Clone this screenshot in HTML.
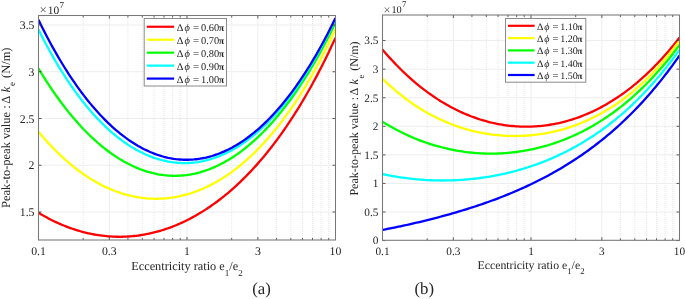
<!DOCTYPE html>
<html><head><meta charset="utf-8"><style>
html,body{margin:0;padding:0;background:#fff;width:685px;height:299px;overflow:hidden}
svg{display:block;will-change:transform;filter:blur(0.3px)}
text{font-family:"Liberation Serif",serif;text-rendering:geometricPrecision}
</style></head><body>
<svg width="685" height="299" viewBox="0 0 685 299" font-family='"Liberation Serif", serif' fill="#262626"><clipPath id="clipa"><rect x="38.5" y="15.5" width="297.0" height="224.5"/></clipPath>
<line x1="83.20" y1="15.5" x2="83.20" y2="240.0" stroke="#e0e0e0" stroke-width="0.8" stroke-dasharray="1,1" stroke-dashoffset="0.50"/>
<line x1="127.91" y1="15.5" x2="127.91" y2="240.0" stroke="#e0e0e0" stroke-width="0.8" stroke-dasharray="1,1" stroke-dashoffset="0.50"/>
<line x1="142.30" y1="15.5" x2="142.30" y2="240.0" stroke="#e0e0e0" stroke-width="0.8" stroke-dasharray="1,1" stroke-dashoffset="0.50"/>
<line x1="154.06" y1="15.5" x2="154.06" y2="240.0" stroke="#e0e0e0" stroke-width="0.8" stroke-dasharray="1,1" stroke-dashoffset="0.50"/>
<line x1="164.00" y1="15.5" x2="164.00" y2="240.0" stroke="#e0e0e0" stroke-width="0.8" stroke-dasharray="1,1" stroke-dashoffset="0.50"/>
<line x1="172.61" y1="15.5" x2="172.61" y2="240.0" stroke="#e0e0e0" stroke-width="0.8" stroke-dasharray="1,1" stroke-dashoffset="0.50"/>
<line x1="180.21" y1="15.5" x2="180.21" y2="240.0" stroke="#e0e0e0" stroke-width="0.8" stroke-dasharray="1,1" stroke-dashoffset="0.50"/>
<line x1="231.70" y1="15.5" x2="231.70" y2="240.0" stroke="#e0e0e0" stroke-width="0.8" stroke-dasharray="1,1" stroke-dashoffset="0.50"/>
<line x1="276.41" y1="15.5" x2="276.41" y2="240.0" stroke="#e0e0e0" stroke-width="0.8" stroke-dasharray="1,1" stroke-dashoffset="0.50"/>
<line x1="290.80" y1="15.5" x2="290.80" y2="240.0" stroke="#e0e0e0" stroke-width="0.8" stroke-dasharray="1,1" stroke-dashoffset="0.50"/>
<line x1="302.56" y1="15.5" x2="302.56" y2="240.0" stroke="#e0e0e0" stroke-width="0.8" stroke-dasharray="1,1" stroke-dashoffset="0.50"/>
<line x1="312.50" y1="15.5" x2="312.50" y2="240.0" stroke="#e0e0e0" stroke-width="0.8" stroke-dasharray="1,1" stroke-dashoffset="0.50"/>
<line x1="321.11" y1="15.5" x2="321.11" y2="240.0" stroke="#e0e0e0" stroke-width="0.8" stroke-dasharray="1,1" stroke-dashoffset="0.50"/>
<line x1="328.71" y1="15.5" x2="328.71" y2="240.0" stroke="#e0e0e0" stroke-width="0.8" stroke-dasharray="1,1" stroke-dashoffset="0.50"/>
<line x1="109.35" y1="15.5" x2="109.35" y2="240.0" stroke="#ededed" stroke-width="1"/>
<line x1="187.00" y1="15.5" x2="187.00" y2="240.0" stroke="#ededed" stroke-width="1"/>
<line x1="257.85" y1="15.5" x2="257.85" y2="240.0" stroke="#ededed" stroke-width="1"/>
<line x1="38.5" y1="212.00" x2="335.5" y2="212.00" stroke="#ededed" stroke-width="1"/>
<line x1="38.5" y1="165.25" x2="335.5" y2="165.25" stroke="#ededed" stroke-width="1"/>
<line x1="38.5" y1="118.50" x2="335.5" y2="118.50" stroke="#ededed" stroke-width="1"/>
<line x1="38.5" y1="71.75" x2="335.5" y2="71.75" stroke="#ededed" stroke-width="1"/>
<line x1="38.5" y1="25.00" x2="335.5" y2="25.00" stroke="#ededed" stroke-width="1"/>
<path d="M38.50,212.77 L40.49,213.96 L42.49,215.12 L44.48,216.25 L46.47,217.34 L48.47,218.41 L50.46,219.44 L52.45,220.44 L54.45,221.41 L56.44,222.35 L58.43,223.26 L60.43,224.14 L62.42,224.98 L64.41,225.80 L66.41,226.59 L68.40,227.34 L70.39,228.07 L72.39,228.77 L74.38,229.44 L76.37,230.07 L78.37,230.68 L80.36,231.26 L82.35,231.81 L84.35,232.33 L86.34,232.82 L88.33,233.29 L90.33,233.72 L92.32,234.13 L94.31,234.50 L96.31,234.85 L98.30,235.17 L100.29,235.46 L102.29,235.72 L104.28,235.95 L106.27,236.15 L108.27,236.33 L110.26,236.47 L112.25,236.59 L114.24,236.68 L116.24,236.74 L118.23,236.77 L120.22,236.78 L122.22,236.75 L124.21,236.70 L126.20,236.62 L128.20,236.51 L130.19,236.37 L132.18,236.20 L134.18,236.01 L136.17,235.78 L138.16,235.53 L140.16,235.25 L142.15,234.94 L144.14,234.60 L146.14,234.23 L148.13,233.83 L150.12,233.41 L152.12,232.95 L154.11,232.47 L156.10,231.96 L158.10,231.42 L160.09,230.84 L162.08,230.24 L164.08,229.61 L166.07,228.95 L168.06,228.27 L170.06,227.55 L172.05,226.80 L174.04,226.02 L176.04,225.21 L178.03,224.37 L180.02,223.50 L182.02,222.60 L184.01,221.67 L186.00,220.71 L188.00,219.72 L189.99,218.69 L191.98,217.64 L193.98,216.55 L195.97,215.43 L197.96,214.28 L199.96,213.10 L201.95,211.88 L203.94,210.64 L205.94,209.36 L207.93,208.04 L209.92,206.70 L211.92,205.32 L213.91,203.90 L215.90,202.45 L217.90,200.97 L219.89,199.46 L221.88,197.90 L223.88,196.32 L225.87,194.69 L227.86,193.04 L229.86,191.34 L231.85,189.61 L233.84,187.84 L235.84,186.04 L237.83,184.20 L239.82,182.31 L241.82,180.40 L243.81,178.44 L245.80,176.44 L247.80,174.41 L249.79,172.33 L251.78,170.21 L253.78,168.06 L255.77,165.86 L257.76,163.62 L259.76,161.34 L261.75,159.01 L263.74,156.64 L265.73,154.23 L267.73,151.78 L269.72,149.28 L271.71,146.73 L273.71,144.14 L275.70,141.50 L277.69,138.82 L279.69,136.09 L281.68,133.31 L283.67,130.48 L285.67,127.60 L287.66,124.68 L289.65,121.70 L291.65,118.67 L293.64,115.59 L295.63,112.46 L297.63,109.28 L299.62,106.04 L301.61,102.74 L303.61,99.39 L305.60,95.99 L307.59,92.53 L309.59,89.01 L311.58,85.44 L313.57,81.80 L315.57,78.11 L317.56,74.35 L319.55,70.53 L321.55,66.66 L323.54,62.72 L325.53,58.71 L327.53,54.64 L329.52,50.51 L331.51,46.30 L333.51,42.03 L335.50,37.70" fill="none" stroke="#ff0000" stroke-width="2.3" stroke-linejoin="round" clip-path="url(#clipa)"/>
<path d="M38.50,131.70 L40.49,134.09 L42.49,136.43 L44.48,138.72 L46.47,140.96 L48.47,143.15 L50.46,145.30 L52.45,147.39 L54.45,149.44 L56.44,151.44 L58.43,153.40 L60.43,155.30 L62.42,157.17 L64.41,158.98 L66.41,160.76 L68.40,162.49 L70.39,164.17 L72.39,165.81 L74.38,167.41 L76.37,168.96 L78.37,170.48 L80.36,171.95 L82.35,173.37 L84.35,174.76 L86.34,176.10 L88.33,177.41 L90.33,178.67 L92.32,179.89 L94.31,181.08 L96.31,182.22 L98.30,183.32 L100.29,184.38 L102.29,185.41 L104.28,186.39 L106.27,187.34 L108.27,188.24 L110.26,189.11 L112.25,189.94 L114.24,190.73 L116.24,191.49 L118.23,192.21 L120.22,192.88 L122.22,193.52 L124.21,194.13 L126.20,194.70 L128.20,195.22 L130.19,195.72 L132.18,196.17 L134.18,196.59 L136.17,196.97 L138.16,197.32 L140.16,197.63 L142.15,197.90 L144.14,198.13 L146.14,198.33 L148.13,198.50 L150.12,198.62 L152.12,198.71 L154.11,198.77 L156.10,198.78 L158.10,198.76 L160.09,198.71 L162.08,198.62 L164.08,198.49 L166.07,198.33 L168.06,198.13 L170.06,197.89 L172.05,197.61 L174.04,197.30 L176.04,196.96 L178.03,196.58 L180.02,196.16 L182.02,195.70 L184.01,195.20 L186.00,194.67 L188.00,194.11 L189.99,193.50 L191.98,192.86 L193.98,192.18 L195.97,191.46 L197.96,190.70 L199.96,189.91 L201.95,189.08 L203.94,188.21 L205.94,187.30 L207.93,186.35 L209.92,185.37 L211.92,184.34 L213.91,183.28 L215.90,182.17 L217.90,181.03 L219.89,179.85 L221.88,178.62 L223.88,177.36 L225.87,176.05 L227.86,174.71 L229.86,173.32 L231.85,171.89 L233.84,170.42 L235.84,168.90 L237.83,167.35 L239.82,165.75 L241.82,164.11 L243.81,162.42 L245.80,160.69 L247.80,158.92 L249.79,157.10 L251.78,155.23 L253.78,153.32 L255.77,151.36 L257.76,149.36 L259.76,147.31 L261.75,145.22 L263.74,143.07 L265.73,140.88 L267.73,138.64 L269.72,136.34 L271.71,134.00 L273.71,131.61 L275.70,129.17 L277.69,126.68 L279.69,124.13 L281.68,121.53 L283.67,118.88 L285.67,116.18 L287.66,113.42 L289.65,110.60 L291.65,107.73 L293.64,104.81 L295.63,101.83 L297.63,98.79 L299.62,95.69 L301.61,92.53 L303.61,89.31 L305.60,86.04 L307.59,82.70 L309.59,79.30 L311.58,75.84 L313.57,72.31 L315.57,68.72 L317.56,65.06 L319.55,61.34 L321.55,57.55 L323.54,53.70 L325.53,49.78 L327.53,45.78 L329.52,41.72 L331.51,37.59 L333.51,33.38 L335.50,29.10" fill="none" stroke="#ffff00" stroke-width="2.3" stroke-linejoin="round" clip-path="url(#clipa)"/>
<path d="M38.50,68.45 L40.49,71.75 L42.49,74.99 L44.48,78.17 L46.47,81.29 L48.47,84.35 L50.46,87.35 L52.45,90.30 L54.45,93.18 L56.44,96.02 L58.43,98.79 L60.43,101.51 L62.42,104.18 L64.41,106.79 L66.41,109.34 L68.40,111.85 L70.39,114.30 L72.39,116.70 L74.38,119.04 L76.37,121.33 L78.37,123.58 L80.36,125.77 L82.35,127.91 L84.35,130.00 L86.34,132.04 L88.33,134.03 L90.33,135.97 L92.32,137.86 L94.31,139.70 L96.31,141.50 L98.30,143.25 L100.29,144.95 L102.29,146.60 L104.28,148.20 L106.27,149.76 L108.27,151.27 L110.26,152.73 L112.25,154.15 L114.24,155.52 L116.24,156.84 L118.23,158.12 L120.22,159.36 L122.22,160.54 L124.21,161.69 L126.20,162.78 L128.20,163.83 L130.19,164.84 L132.18,165.80 L134.18,166.72 L136.17,167.59 L138.16,168.42 L140.16,169.20 L142.15,169.94 L144.14,170.64 L146.14,171.29 L148.13,171.90 L150.12,172.46 L152.12,172.98 L154.11,173.45 L156.10,173.88 L158.10,174.27 L160.09,174.61 L162.08,174.91 L164.08,175.17 L166.07,175.38 L168.06,175.55 L170.06,175.67 L172.05,175.75 L174.04,175.79 L176.04,175.79 L178.03,175.73 L180.02,175.64 L182.02,175.50 L184.01,175.32 L186.00,175.10 L188.00,174.83 L189.99,174.52 L191.98,174.16 L193.98,173.76 L195.97,173.32 L197.96,172.83 L199.96,172.30 L201.95,171.72 L203.94,171.10 L205.94,170.44 L207.93,169.73 L209.92,168.98 L211.92,168.18 L213.91,167.34 L215.90,166.46 L217.90,165.53 L219.89,164.55 L221.88,163.53 L223.88,162.46 L225.87,161.35 L227.86,160.20 L229.86,159.00 L231.85,157.75 L233.84,156.46 L235.84,155.12 L237.83,153.74 L239.82,152.31 L241.82,150.83 L243.81,149.30 L245.80,147.73 L247.80,146.12 L249.79,144.45 L251.78,142.74 L253.78,140.98 L255.77,139.17 L257.76,137.31 L259.76,135.40 L261.75,133.45 L263.74,131.44 L265.73,129.39 L267.73,127.28 L269.72,125.13 L271.71,122.92 L273.71,120.66 L275.70,118.36 L277.69,116.00 L279.69,113.58 L281.68,111.12 L283.67,108.60 L285.67,106.03 L287.66,103.40 L289.65,100.72 L291.65,97.98 L293.64,95.19 L295.63,92.34 L297.63,89.44 L299.62,86.47 L301.61,83.46 L303.61,80.38 L305.60,77.24 L307.59,74.04 L309.59,70.79 L311.58,67.47 L313.57,64.09 L315.57,60.65 L317.56,57.15 L319.55,53.58 L321.55,49.95 L323.54,46.26 L325.53,42.50 L327.53,38.67 L329.52,34.78 L331.51,30.82 L333.51,26.79 L335.50,22.69" fill="none" stroke="#00ff00" stroke-width="2.3" stroke-linejoin="round" clip-path="url(#clipa)"/>
<path d="M38.50,29.57 L40.49,33.55 L42.49,37.45 L44.48,41.27 L46.47,45.02 L48.47,48.70 L50.46,52.31 L52.45,55.85 L54.45,59.32 L56.44,62.72 L58.43,66.05 L60.43,69.32 L62.42,72.51 L64.41,75.65 L66.41,78.71 L68.40,81.72 L70.39,84.66 L72.39,87.53 L74.38,90.35 L76.37,93.10 L78.37,95.79 L80.36,98.43 L82.35,101.00 L84.35,103.51 L86.34,105.96 L88.33,108.36 L90.33,110.70 L92.32,112.98 L94.31,115.21 L96.31,117.38 L98.30,119.49 L100.29,121.55 L102.29,123.55 L104.28,125.50 L106.27,127.40 L108.27,129.25 L110.26,131.04 L112.25,132.78 L114.24,134.46 L116.24,136.10 L118.23,137.68 L120.22,139.22 L122.22,140.70 L124.21,142.14 L126.20,143.52 L128.20,144.85 L130.19,146.14 L132.18,147.37 L134.18,148.56 L136.17,149.70 L138.16,150.79 L140.16,151.84 L142.15,152.83 L144.14,153.78 L146.14,154.68 L148.13,155.54 L150.12,156.34 L152.12,157.11 L154.11,157.82 L156.10,158.49 L158.10,159.11 L160.09,159.69 L162.08,160.22 L164.08,160.70 L166.07,161.14 L168.06,161.54 L170.06,161.88 L172.05,162.19 L174.04,162.45 L176.04,162.66 L178.03,162.83 L180.02,162.95 L182.02,163.03 L184.01,163.06 L186.00,163.04 L188.00,162.99 L189.99,162.88 L191.98,162.74 L193.98,162.54 L195.97,162.30 L197.96,162.02 L199.96,161.69 L201.95,161.32 L203.94,160.90 L205.94,160.43 L207.93,159.92 L209.92,159.36 L211.92,158.76 L213.91,158.11 L215.90,157.42 L217.90,156.68 L219.89,155.89 L221.88,155.05 L223.88,154.17 L225.87,153.24 L227.86,152.27 L229.86,151.24 L231.85,150.17 L233.84,149.06 L235.84,147.89 L237.83,146.67 L239.82,145.41 L241.82,144.10 L243.81,142.73 L245.80,141.32 L247.80,139.86 L249.79,138.35 L251.78,136.78 L253.78,135.17 L255.77,133.50 L257.76,131.79 L259.76,130.02 L261.75,128.20 L263.74,126.32 L265.73,124.39 L267.73,122.41 L269.72,120.38 L271.71,118.29 L273.71,116.14 L275.70,113.94 L277.69,111.68 L279.69,109.37 L281.68,107.00 L283.67,104.57 L285.67,102.08 L287.66,99.53 L289.65,96.93 L291.65,94.26 L293.64,91.53 L295.63,88.75 L297.63,85.90 L299.62,82.98 L301.61,80.01 L303.61,76.97 L305.60,73.86 L307.59,70.69 L309.59,67.46 L311.58,64.15 L313.57,60.78 L315.57,57.34 L317.56,53.83 L319.55,50.26 L321.55,46.61 L323.54,42.89 L325.53,39.09 L327.53,35.22 L329.52,31.28 L331.51,27.27 L333.51,23.17 L335.50,19.00" fill="none" stroke="#00ffff" stroke-width="2.3" stroke-linejoin="round" clip-path="url(#clipa)"/>
<path d="M38.50,19.87 L40.49,23.95 L42.49,27.94 L44.48,31.87 L46.47,35.72 L48.47,39.50 L50.46,43.21 L52.45,46.85 L54.45,50.42 L56.44,53.92 L58.43,57.35 L60.43,60.72 L62.42,64.02 L64.41,67.25 L66.41,70.42 L68.40,73.53 L70.39,76.57 L72.39,79.55 L74.38,82.47 L76.37,85.32 L78.37,88.12 L80.36,90.85 L82.35,93.52 L84.35,96.14 L86.34,98.69 L88.33,101.19 L90.33,103.63 L92.32,106.01 L94.31,108.34 L96.31,110.61 L98.30,112.82 L100.29,114.98 L102.29,117.08 L104.28,119.13 L106.27,121.12 L108.27,123.06 L110.26,124.95 L112.25,126.78 L114.24,128.56 L116.24,130.29 L118.23,131.97 L120.22,133.59 L122.22,135.17 L124.21,136.69 L126.20,138.16 L128.20,139.59 L130.19,140.96 L132.18,142.28 L134.18,143.55 L136.17,144.77 L138.16,145.95 L140.16,147.07 L142.15,148.15 L144.14,149.18 L146.14,150.15 L148.13,151.08 L150.12,151.97 L152.12,152.80 L154.11,153.59 L156.10,154.33 L158.10,155.02 L160.09,155.66 L162.08,156.26 L164.08,156.81 L166.07,157.31 L168.06,157.77 L170.06,158.18 L172.05,158.54 L174.04,158.86 L176.04,159.13 L178.03,159.35 L180.02,159.52 L182.02,159.65 L184.01,159.73 L186.00,159.77 L188.00,159.76 L189.99,159.70 L191.98,159.60 L193.98,159.45 L195.97,159.25 L197.96,159.01 L199.96,158.72 L201.95,158.38 L203.94,158.00 L205.94,157.57 L207.93,157.09 L209.92,156.57 L211.92,156.00 L213.91,155.38 L215.90,154.71 L217.90,154.00 L219.89,153.24 L221.88,152.43 L223.88,151.57 L225.87,150.67 L227.86,149.72 L229.86,148.71 L231.85,147.67 L233.84,146.57 L235.84,145.42 L237.83,144.23 L239.82,142.98 L241.82,141.69 L243.81,140.34 L245.80,138.95 L247.80,137.50 L249.79,136.01 L251.78,134.46 L253.78,132.86 L255.77,131.21 L257.76,129.51 L259.76,127.76 L261.75,125.96 L263.74,124.10 L265.73,122.19 L267.73,120.22 L269.72,118.20 L271.71,116.13 L273.71,114.00 L275.70,111.82 L277.69,109.58 L279.69,107.29 L281.68,104.94 L283.67,102.53 L285.67,100.06 L287.66,97.54 L289.65,94.96 L291.65,92.32 L293.64,89.62 L295.63,86.86 L297.63,84.03 L299.62,81.15 L301.61,78.21 L303.61,75.20 L305.60,72.13 L307.59,68.99 L309.59,65.79 L311.58,62.53 L313.57,59.20 L315.57,55.80 L317.56,52.34 L319.55,48.81 L321.55,45.20 L323.54,41.53 L325.53,37.79 L327.53,33.98 L329.52,30.10 L331.51,26.14 L333.51,22.11 L335.50,18.00" fill="none" stroke="#0000ff" stroke-width="2.3" stroke-linejoin="round" clip-path="url(#clipa)"/>
<line x1="83.20" y1="240.0" x2="83.20" y2="238.0" stroke="#333" stroke-width="0.8"/>
<line x1="83.20" y1="15.5" x2="83.20" y2="17.5" stroke="#333" stroke-width="0.8"/>
<line x1="109.35" y1="240.0" x2="109.35" y2="237.0" stroke="#333" stroke-width="0.8"/>
<line x1="109.35" y1="15.5" x2="109.35" y2="18.5" stroke="#333" stroke-width="0.8"/>
<line x1="127.91" y1="240.0" x2="127.91" y2="238.0" stroke="#333" stroke-width="0.8"/>
<line x1="127.91" y1="15.5" x2="127.91" y2="17.5" stroke="#333" stroke-width="0.8"/>
<line x1="142.30" y1="240.0" x2="142.30" y2="238.0" stroke="#333" stroke-width="0.8"/>
<line x1="142.30" y1="15.5" x2="142.30" y2="17.5" stroke="#333" stroke-width="0.8"/>
<line x1="154.06" y1="240.0" x2="154.06" y2="238.0" stroke="#333" stroke-width="0.8"/>
<line x1="154.06" y1="15.5" x2="154.06" y2="17.5" stroke="#333" stroke-width="0.8"/>
<line x1="164.00" y1="240.0" x2="164.00" y2="238.0" stroke="#333" stroke-width="0.8"/>
<line x1="164.00" y1="15.5" x2="164.00" y2="17.5" stroke="#333" stroke-width="0.8"/>
<line x1="172.61" y1="240.0" x2="172.61" y2="238.0" stroke="#333" stroke-width="0.8"/>
<line x1="172.61" y1="15.5" x2="172.61" y2="17.5" stroke="#333" stroke-width="0.8"/>
<line x1="180.21" y1="240.0" x2="180.21" y2="238.0" stroke="#333" stroke-width="0.8"/>
<line x1="180.21" y1="15.5" x2="180.21" y2="17.5" stroke="#333" stroke-width="0.8"/>
<line x1="231.70" y1="240.0" x2="231.70" y2="238.0" stroke="#333" stroke-width="0.8"/>
<line x1="231.70" y1="15.5" x2="231.70" y2="17.5" stroke="#333" stroke-width="0.8"/>
<line x1="257.85" y1="240.0" x2="257.85" y2="237.0" stroke="#333" stroke-width="0.8"/>
<line x1="257.85" y1="15.5" x2="257.85" y2="18.5" stroke="#333" stroke-width="0.8"/>
<line x1="276.41" y1="240.0" x2="276.41" y2="238.0" stroke="#333" stroke-width="0.8"/>
<line x1="276.41" y1="15.5" x2="276.41" y2="17.5" stroke="#333" stroke-width="0.8"/>
<line x1="290.80" y1="240.0" x2="290.80" y2="238.0" stroke="#333" stroke-width="0.8"/>
<line x1="290.80" y1="15.5" x2="290.80" y2="17.5" stroke="#333" stroke-width="0.8"/>
<line x1="302.56" y1="240.0" x2="302.56" y2="238.0" stroke="#333" stroke-width="0.8"/>
<line x1="302.56" y1="15.5" x2="302.56" y2="17.5" stroke="#333" stroke-width="0.8"/>
<line x1="312.50" y1="240.0" x2="312.50" y2="238.0" stroke="#333" stroke-width="0.8"/>
<line x1="312.50" y1="15.5" x2="312.50" y2="17.5" stroke="#333" stroke-width="0.8"/>
<line x1="321.11" y1="240.0" x2="321.11" y2="238.0" stroke="#333" stroke-width="0.8"/>
<line x1="321.11" y1="15.5" x2="321.11" y2="17.5" stroke="#333" stroke-width="0.8"/>
<line x1="328.71" y1="240.0" x2="328.71" y2="238.0" stroke="#333" stroke-width="0.8"/>
<line x1="328.71" y1="15.5" x2="328.71" y2="17.5" stroke="#333" stroke-width="0.8"/>
<line x1="187.00" y1="240.0" x2="187.00" y2="237.0" stroke="#333" stroke-width="0.8"/>
<line x1="187.00" y1="15.5" x2="187.00" y2="18.5" stroke="#333" stroke-width="0.8"/>
<line x1="38.5" y1="212.00" x2="41.5" y2="212.00" stroke="#333" stroke-width="0.8"/>
<line x1="335.5" y1="212.00" x2="332.5" y2="212.00" stroke="#333" stroke-width="0.8"/>
<line x1="38.5" y1="165.25" x2="41.5" y2="165.25" stroke="#333" stroke-width="0.8"/>
<line x1="335.5" y1="165.25" x2="332.5" y2="165.25" stroke="#333" stroke-width="0.8"/>
<line x1="38.5" y1="118.50" x2="41.5" y2="118.50" stroke="#333" stroke-width="0.8"/>
<line x1="335.5" y1="118.50" x2="332.5" y2="118.50" stroke="#333" stroke-width="0.8"/>
<line x1="38.5" y1="71.75" x2="41.5" y2="71.75" stroke="#333" stroke-width="0.8"/>
<line x1="335.5" y1="71.75" x2="332.5" y2="71.75" stroke="#333" stroke-width="0.8"/>
<line x1="38.5" y1="25.00" x2="41.5" y2="25.00" stroke="#333" stroke-width="0.8"/>
<line x1="335.5" y1="25.00" x2="332.5" y2="25.00" stroke="#333" stroke-width="0.8"/>
<rect x="38.5" y="15.5" width="297.0" height="224.5" fill="none" stroke="#777" stroke-width="1.05"/>
<text x="34.50" y="216.01" font-size="11.8" text-anchor="end" >1.5</text>
<text x="34.50" y="169.26" font-size="11.8" text-anchor="end" >2</text>
<text x="34.50" y="122.51" font-size="11.8" text-anchor="end" >2.5</text>
<text x="34.50" y="75.76" font-size="11.8" text-anchor="end" >3</text>
<text x="34.50" y="29.01" font-size="11.8" text-anchor="end" >3.5</text>
<text x="38.50" y="254.80" font-size="11.8" text-anchor="middle" >0.1</text>
<text x="109.35" y="254.80" font-size="11.8" text-anchor="middle" >0.3</text>
<text x="187.00" y="254.80" font-size="11.8" text-anchor="middle" >1</text>
<text x="257.85" y="254.80" font-size="11.8" text-anchor="middle" >3</text>
<text x="335.50" y="254.80" font-size="11.8" text-anchor="middle" >10</text>
<text x="39.5" y="13.5" font-size="11.40"><tspan font-size="13.00" dy="0.9" fill="#555">×</tspan><tspan dy="-0.9" dx="0.90" font-size="11.4">10</tspan><tspan font-size="9.00" dy="-5.90" dx="0.40">7</tspan></text>
<text x="187.00" y="269.7" font-size="12.3" text-anchor="middle">Eccentricity ratio e<tspan font-size="9.10" dy="5.80">1</tspan><tspan dy="-5.80">/e</tspan><tspan font-size="9.10" dy="5.80">2</tspan></text>
<text transform="translate(9.6,127.75) rotate(-90)" x="0" y="0" font-size="12.50" text-anchor="middle">Peak-to-peak value :<tspan dx="-1.50"> Δ </tspan><tspan font-style="italic" dx="1.00">k</tspan><tspan font-size="9.25" dy="5.80" dx="0.60">e</tspan><tspan dy="-5.80" dx="0.80"> (N/m)</tspan></text>
<rect x="144.2" y="18.5" width="82.30000000000001" height="67.5" fill="#fff" stroke="#8a8a8a" stroke-width="1"/>
<line x1="146.8" y1="26.75" x2="174.1" y2="26.75" stroke="#ff0000" stroke-width="2.2"/>
<text y="30.81" font-size="10.4"><tspan x="176.80">Δ</tspan><tspan x="184.40" font-style="italic">ϕ</tspan><tspan x="193.00" font-size="10.92">=</tspan><tspan x="201.00">0.60</tspan><tspan x="218.70" font-weight="bold" font-size="9.88">π</tspan></text>
<line x1="146.8" y1="39.71" x2="174.1" y2="39.71" stroke="#ffff00" stroke-width="2.2"/>
<text y="43.77" font-size="10.4"><tspan x="176.80">Δ</tspan><tspan x="184.40" font-style="italic">ϕ</tspan><tspan x="193.00" font-size="10.92">=</tspan><tspan x="201.00">0.70</tspan><tspan x="218.70" font-weight="bold" font-size="9.88">π</tspan></text>
<line x1="146.8" y1="52.67" x2="174.1" y2="52.67" stroke="#00ff00" stroke-width="2.2"/>
<text y="56.73" font-size="10.4"><tspan x="176.80">Δ</tspan><tspan x="184.40" font-style="italic">ϕ</tspan><tspan x="193.00" font-size="10.92">=</tspan><tspan x="201.00">0.80</tspan><tspan x="218.70" font-weight="bold" font-size="9.88">π</tspan></text>
<line x1="146.8" y1="65.63" x2="174.1" y2="65.63" stroke="#00ffff" stroke-width="2.2"/>
<text y="69.69" font-size="10.4"><tspan x="176.80">Δ</tspan><tspan x="184.40" font-style="italic">ϕ</tspan><tspan x="193.00" font-size="10.92">=</tspan><tspan x="201.00">0.90</tspan><tspan x="218.70" font-weight="bold" font-size="9.88">π</tspan></text>
<line x1="146.8" y1="78.59" x2="174.1" y2="78.59" stroke="#0000ff" stroke-width="2.2"/>
<text y="82.65" font-size="10.4"><tspan x="176.80">Δ</tspan><tspan x="184.40" font-style="italic">ϕ</tspan><tspan x="193.00" font-size="10.92">=</tspan><tspan x="201.00">1.00</tspan><tspan x="218.70" font-weight="bold" font-size="9.88">π</tspan></text><clipPath id="clipb"><rect x="382.5" y="15.0" width="297.0" height="225.3"/></clipPath>
<line x1="427.20" y1="15.0" x2="427.20" y2="240.3" stroke="#e0e0e0" stroke-width="0.8" stroke-dasharray="1,1" stroke-dashoffset="0.00"/>
<line x1="471.91" y1="15.0" x2="471.91" y2="240.3" stroke="#e0e0e0" stroke-width="0.8" stroke-dasharray="1,1" stroke-dashoffset="0.00"/>
<line x1="486.30" y1="15.0" x2="486.30" y2="240.3" stroke="#e0e0e0" stroke-width="0.8" stroke-dasharray="1,1" stroke-dashoffset="0.00"/>
<line x1="498.06" y1="15.0" x2="498.06" y2="240.3" stroke="#e0e0e0" stroke-width="0.8" stroke-dasharray="1,1" stroke-dashoffset="0.00"/>
<line x1="508.00" y1="15.0" x2="508.00" y2="240.3" stroke="#e0e0e0" stroke-width="0.8" stroke-dasharray="1,1" stroke-dashoffset="0.00"/>
<line x1="516.61" y1="15.0" x2="516.61" y2="240.3" stroke="#e0e0e0" stroke-width="0.8" stroke-dasharray="1,1" stroke-dashoffset="0.00"/>
<line x1="524.21" y1="15.0" x2="524.21" y2="240.3" stroke="#e0e0e0" stroke-width="0.8" stroke-dasharray="1,1" stroke-dashoffset="0.00"/>
<line x1="575.70" y1="15.0" x2="575.70" y2="240.3" stroke="#e0e0e0" stroke-width="0.8" stroke-dasharray="1,1" stroke-dashoffset="0.00"/>
<line x1="620.41" y1="15.0" x2="620.41" y2="240.3" stroke="#e0e0e0" stroke-width="0.8" stroke-dasharray="1,1" stroke-dashoffset="0.00"/>
<line x1="634.80" y1="15.0" x2="634.80" y2="240.3" stroke="#e0e0e0" stroke-width="0.8" stroke-dasharray="1,1" stroke-dashoffset="0.00"/>
<line x1="646.56" y1="15.0" x2="646.56" y2="240.3" stroke="#e0e0e0" stroke-width="0.8" stroke-dasharray="1,1" stroke-dashoffset="0.00"/>
<line x1="656.50" y1="15.0" x2="656.50" y2="240.3" stroke="#e0e0e0" stroke-width="0.8" stroke-dasharray="1,1" stroke-dashoffset="0.00"/>
<line x1="665.11" y1="15.0" x2="665.11" y2="240.3" stroke="#e0e0e0" stroke-width="0.8" stroke-dasharray="1,1" stroke-dashoffset="0.00"/>
<line x1="672.71" y1="15.0" x2="672.71" y2="240.3" stroke="#e0e0e0" stroke-width="0.8" stroke-dasharray="1,1" stroke-dashoffset="0.00"/>
<line x1="453.35" y1="15.0" x2="453.35" y2="240.3" stroke="#ededed" stroke-width="1"/>
<line x1="531.00" y1="15.0" x2="531.00" y2="240.3" stroke="#ededed" stroke-width="1"/>
<line x1="601.85" y1="15.0" x2="601.85" y2="240.3" stroke="#ededed" stroke-width="1"/>
<line x1="382.5" y1="212.03" x2="679.5" y2="212.03" stroke="#ededed" stroke-width="1"/>
<line x1="382.5" y1="183.45" x2="679.5" y2="183.45" stroke="#ededed" stroke-width="1"/>
<line x1="382.5" y1="154.88" x2="679.5" y2="154.88" stroke="#ededed" stroke-width="1"/>
<line x1="382.5" y1="126.30" x2="679.5" y2="126.30" stroke="#ededed" stroke-width="1"/>
<line x1="382.5" y1="97.72" x2="679.5" y2="97.72" stroke="#ededed" stroke-width="1"/>
<line x1="382.5" y1="69.15" x2="679.5" y2="69.15" stroke="#ededed" stroke-width="1"/>
<line x1="382.5" y1="40.57" x2="679.5" y2="40.57" stroke="#ededed" stroke-width="1"/>
<path d="M382.50,49.54 L384.49,51.88 L386.49,54.17 L388.48,56.42 L390.47,58.63 L392.47,60.79 L394.46,62.91 L396.45,64.98 L398.45,67.02 L400.44,69.01 L402.43,70.97 L404.43,72.88 L406.42,74.75 L408.41,76.59 L410.41,78.38 L412.40,80.14 L414.39,81.86 L416.39,83.54 L418.38,85.18 L420.37,86.79 L422.37,88.36 L424.36,89.89 L426.35,91.39 L428.35,92.85 L430.34,94.28 L432.33,95.67 L434.33,97.03 L436.32,98.36 L438.31,99.65 L440.31,100.90 L442.30,102.13 L444.29,103.32 L446.29,104.48 L448.28,105.61 L450.27,106.70 L452.27,107.77 L454.26,108.80 L456.25,109.80 L458.24,110.77 L460.24,111.71 L462.23,112.62 L464.22,113.50 L466.22,114.35 L468.21,115.17 L470.20,115.96 L472.20,116.72 L474.19,117.45 L476.18,118.15 L478.18,118.83 L480.17,119.47 L482.16,120.09 L484.16,120.67 L486.15,121.23 L488.14,121.77 L490.14,122.27 L492.13,122.75 L494.12,123.19 L496.12,123.61 L498.11,124.01 L500.10,124.37 L502.10,124.71 L504.09,125.02 L506.08,125.31 L508.08,125.56 L510.07,125.79 L512.06,126.00 L514.06,126.17 L516.05,126.32 L518.04,126.44 L520.04,126.54 L522.03,126.61 L524.02,126.65 L526.02,126.67 L528.01,126.66 L530.00,126.62 L532.00,126.55 L533.99,126.46 L535.98,126.34 L537.98,126.20 L539.97,126.03 L541.96,125.83 L543.96,125.60 L545.95,125.35 L547.94,125.07 L549.94,124.76 L551.93,124.43 L553.92,124.07 L555.92,123.68 L557.91,123.26 L559.90,122.82 L561.90,122.35 L563.89,121.85 L565.88,121.32 L567.88,120.76 L569.87,120.18 L571.86,119.57 L573.86,118.93 L575.85,118.26 L577.84,117.56 L579.84,116.83 L581.83,116.08 L583.82,115.29 L585.82,114.48 L587.81,113.63 L589.80,112.76 L591.80,111.86 L593.79,110.92 L595.78,109.95 L597.78,108.96 L599.77,107.93 L601.76,106.87 L603.76,105.78 L605.75,104.66 L607.74,103.50 L609.73,102.32 L611.73,101.10 L613.72,99.84 L615.71,98.56 L617.71,97.24 L619.70,95.89 L621.69,94.50 L623.69,93.08 L625.68,91.62 L627.67,90.13 L629.67,88.60 L631.66,87.03 L633.65,85.43 L635.65,83.79 L637.64,82.12 L639.63,80.41 L641.63,78.66 L643.62,76.87 L645.61,75.04 L647.61,73.17 L649.60,71.27 L651.59,69.32 L653.59,67.33 L655.58,65.30 L657.57,63.23 L659.57,61.12 L661.56,58.97 L663.55,56.77 L665.55,54.53 L667.54,52.24 L669.53,49.91 L671.53,47.53 L673.52,45.11 L675.51,42.64 L677.51,40.13 L679.50,37.56" fill="none" stroke="#ff0000" stroke-width="2.3" stroke-linejoin="round" clip-path="url(#clipb)"/>
<path d="M382.50,78.68 L384.49,80.61 L386.49,82.50 L388.48,84.35 L390.47,86.16 L392.47,87.93 L394.46,89.66 L396.45,91.35 L398.45,93.00 L400.44,94.61 L402.43,96.18 L404.43,97.72 L406.42,99.22 L408.41,100.68 L410.41,102.10 L412.40,103.50 L414.39,104.85 L416.39,106.17 L418.38,107.46 L420.37,108.72 L422.37,109.94 L424.36,111.13 L426.35,112.28 L428.35,113.41 L430.34,114.50 L432.33,115.56 L434.33,116.59 L436.32,117.59 L438.31,118.56 L440.31,119.50 L442.30,120.41 L444.29,121.29 L446.29,122.15 L448.28,122.97 L450.27,123.77 L452.27,124.54 L454.26,125.28 L456.25,126.00 L458.24,126.69 L460.24,127.35 L462.23,127.99 L464.22,128.60 L466.22,129.18 L468.21,129.74 L470.20,130.27 L472.20,130.78 L474.19,131.26 L476.18,131.72 L478.18,132.16 L480.17,132.57 L482.16,132.96 L484.16,133.32 L486.15,133.66 L488.14,133.98 L490.14,134.27 L492.13,134.54 L494.12,134.78 L496.12,135.01 L498.11,135.21 L500.10,135.38 L502.10,135.54 L504.09,135.67 L506.08,135.78 L508.08,135.87 L510.07,135.93 L512.06,135.97 L514.06,135.99 L516.05,135.99 L518.04,135.96 L520.04,135.91 L522.03,135.84 L524.02,135.75 L526.02,135.64 L528.01,135.50 L530.00,135.34 L532.00,135.15 L533.99,134.95 L535.98,134.72 L537.98,134.46 L539.97,134.19 L541.96,133.89 L543.96,133.57 L545.95,133.22 L547.94,132.85 L549.94,132.46 L551.93,132.04 L553.92,131.60 L555.92,131.13 L557.91,130.64 L559.90,130.12 L561.90,129.58 L563.89,129.02 L565.88,128.42 L567.88,127.81 L569.87,127.16 L571.86,126.49 L573.86,125.80 L575.85,125.07 L577.84,124.32 L579.84,123.55 L581.83,122.74 L583.82,121.91 L585.82,121.04 L587.81,120.15 L589.80,119.23 L591.80,118.29 L593.79,117.31 L595.78,116.30 L597.78,115.26 L599.77,114.19 L601.76,113.09 L603.76,111.95 L605.75,110.79 L607.74,109.59 L609.73,108.36 L611.73,107.10 L613.72,105.80 L615.71,104.47 L617.71,103.10 L619.70,101.70 L621.69,100.26 L623.69,98.79 L625.68,97.28 L627.67,95.73 L629.67,94.15 L631.66,92.53 L633.65,90.87 L635.65,89.17 L637.64,87.43 L639.63,85.65 L641.63,83.83 L643.62,81.97 L645.61,80.06 L647.61,78.12 L649.60,76.13 L651.59,74.09 L653.59,72.02 L655.58,69.89 L657.57,67.72 L659.57,65.51 L661.56,63.25 L663.55,60.94 L665.55,58.58 L667.54,56.18 L669.53,53.72 L671.53,51.22 L673.52,48.66 L675.51,46.05 L677.51,43.39 L679.50,40.67" fill="none" stroke="#ffff00" stroke-width="2.3" stroke-linejoin="round" clip-path="url(#clipb)"/>
<path d="M382.50,121.73 L384.49,122.96 L386.49,124.16 L388.48,125.34 L390.47,126.49 L392.47,127.61 L394.46,128.70 L396.45,129.76 L398.45,130.80 L400.44,131.82 L402.43,132.81 L404.43,133.77 L406.42,134.71 L408.41,135.62 L410.41,136.51 L412.40,137.37 L414.39,138.21 L416.39,139.02 L418.38,139.81 L420.37,140.58 L422.37,141.32 L424.36,142.04 L426.35,142.74 L428.35,143.41 L430.34,144.06 L432.33,144.69 L434.33,145.30 L436.32,145.88 L438.31,146.44 L440.31,146.98 L442.30,147.49 L444.29,147.99 L446.29,148.46 L448.28,148.91 L450.27,149.35 L452.27,149.75 L454.26,150.14 L456.25,150.51 L458.24,150.86 L460.24,151.18 L462.23,151.48 L464.22,151.77 L466.22,152.03 L468.21,152.27 L470.20,152.50 L472.20,152.70 L474.19,152.88 L476.18,153.04 L478.18,153.18 L480.17,153.30 L482.16,153.40 L484.16,153.48 L486.15,153.54 L488.14,153.58 L490.14,153.60 L492.13,153.60 L494.12,153.58 L496.12,153.54 L498.11,153.48 L500.10,153.39 L502.10,153.29 L504.09,153.17 L506.08,153.03 L508.08,152.87 L510.07,152.68 L512.06,152.48 L514.06,152.26 L516.05,152.01 L518.04,151.75 L520.04,151.46 L522.03,151.16 L524.02,150.83 L526.02,150.48 L528.01,150.12 L530.00,149.73 L532.00,149.32 L533.99,148.88 L535.98,148.43 L537.98,147.95 L539.97,147.46 L541.96,146.94 L543.96,146.40 L545.95,145.84 L547.94,145.25 L549.94,144.65 L551.93,144.02 L553.92,143.36 L555.92,142.69 L557.91,141.99 L559.90,141.27 L561.90,140.53 L563.89,139.76 L565.88,138.97 L567.88,138.15 L569.87,137.31 L571.86,136.44 L573.86,135.56 L575.85,134.64 L577.84,133.70 L579.84,132.74 L581.83,131.75 L583.82,130.73 L585.82,129.69 L587.81,128.62 L589.80,127.53 L591.80,126.40 L593.79,125.26 L595.78,124.08 L597.78,122.87 L599.77,121.64 L601.76,120.38 L603.76,119.09 L605.75,117.77 L607.74,116.42 L609.73,115.05 L611.73,113.64 L613.72,112.20 L615.71,110.73 L617.71,109.23 L619.70,107.70 L621.69,106.14 L623.69,104.54 L625.68,102.92 L627.67,101.25 L629.67,99.56 L631.66,97.83 L633.65,96.07 L635.65,94.27 L637.64,92.44 L639.63,90.57 L641.63,88.67 L643.62,86.73 L645.61,84.75 L647.61,82.73 L649.60,80.68 L651.59,78.59 L653.59,76.46 L655.58,74.29 L657.57,72.08 L659.57,69.83 L661.56,67.54 L663.55,65.20 L665.55,62.83 L667.54,60.41 L669.53,57.95 L671.53,55.44 L673.52,52.89 L675.51,50.30 L677.51,47.65 L679.50,44.97" fill="none" stroke="#00ff00" stroke-width="2.3" stroke-linejoin="round" clip-path="url(#clipb)"/>
<path d="M382.50,174.08 L384.49,174.50 L386.49,174.91 L388.48,175.31 L390.47,175.69 L392.47,176.06 L394.46,176.41 L396.45,176.74 L398.45,177.06 L400.44,177.37 L402.43,177.66 L404.43,177.93 L406.42,178.20 L408.41,178.44 L410.41,178.68 L412.40,178.89 L414.39,179.10 L416.39,179.29 L418.38,179.46 L420.37,179.63 L422.37,179.77 L424.36,179.91 L426.35,180.03 L428.35,180.13 L430.34,180.23 L432.33,180.30 L434.33,180.37 L436.32,180.42 L438.31,180.46 L440.31,180.48 L442.30,180.49 L444.29,180.48 L446.29,180.46 L448.28,180.43 L450.27,180.39 L452.27,180.33 L454.26,180.25 L456.25,180.16 L458.24,180.06 L460.24,179.95 L462.23,179.82 L464.22,179.67 L466.22,179.51 L468.21,179.34 L470.20,179.16 L472.20,178.96 L474.19,178.74 L476.18,178.51 L478.18,178.27 L480.17,178.01 L482.16,177.74 L484.16,177.45 L486.15,177.15 L488.14,176.84 L490.14,176.51 L492.13,176.16 L494.12,175.80 L496.12,175.42 L498.11,175.03 L500.10,174.63 L502.10,174.21 L504.09,173.77 L506.08,173.32 L508.08,172.85 L510.07,172.36 L512.06,171.86 L514.06,171.35 L516.05,170.81 L518.04,170.26 L520.04,169.70 L522.03,169.12 L524.02,168.52 L526.02,167.90 L528.01,167.27 L530.00,166.62 L532.00,165.95 L533.99,165.27 L535.98,164.56 L537.98,163.84 L539.97,163.10 L541.96,162.34 L543.96,161.57 L545.95,160.77 L547.94,159.96 L549.94,159.13 L551.93,158.27 L553.92,157.40 L555.92,156.51 L557.91,155.60 L559.90,154.66 L561.90,153.71 L563.89,152.74 L565.88,151.74 L567.88,150.73 L569.87,149.69 L571.86,148.63 L573.86,147.55 L575.85,146.45 L577.84,145.33 L579.84,144.18 L581.83,143.01 L583.82,141.81 L585.82,140.59 L587.81,139.35 L589.80,138.09 L591.80,136.80 L593.79,135.48 L595.78,134.14 L597.78,132.77 L599.77,131.38 L601.76,129.96 L603.76,128.52 L605.75,127.05 L607.74,125.55 L609.73,124.02 L611.73,122.47 L613.72,120.88 L615.71,119.27 L617.71,117.63 L619.70,115.96 L621.69,114.26 L623.69,112.53 L625.68,110.77 L627.67,108.98 L629.67,107.15 L631.66,105.30 L633.65,103.41 L635.65,101.49 L637.64,99.53 L639.63,97.54 L641.63,95.52 L643.62,93.46 L645.61,91.37 L647.61,89.24 L649.60,87.07 L651.59,84.87 L653.59,82.63 L655.58,80.35 L657.57,78.04 L659.57,75.68 L661.56,73.29 L663.55,70.85 L665.55,68.37 L667.54,65.86 L669.53,63.30 L671.53,60.69 L673.52,58.05 L675.51,55.36 L677.51,52.62 L679.50,49.84" fill="none" stroke="#00ffff" stroke-width="2.3" stroke-linejoin="round" clip-path="url(#clipb)"/>
<path d="M382.50,229.89 L384.49,229.51 L386.49,229.13 L388.48,228.74 L390.47,228.35 L392.47,227.95 L394.46,227.54 L396.45,227.13 L398.45,226.71 L400.44,226.29 L402.43,225.87 L404.43,225.43 L406.42,225.00 L408.41,224.55 L410.41,224.11 L412.40,223.65 L414.39,223.20 L416.39,222.73 L418.38,222.26 L420.37,221.79 L422.37,221.31 L424.36,220.83 L426.35,220.34 L428.35,219.84 L430.34,219.34 L432.33,218.84 L434.33,218.33 L436.32,217.81 L438.31,217.29 L440.31,216.76 L442.30,216.22 L444.29,215.68 L446.29,215.13 L448.28,214.58 L450.27,214.02 L452.27,213.45 L454.26,212.88 L456.25,212.30 L458.24,211.71 L460.24,211.12 L462.23,210.52 L464.22,209.91 L466.22,209.29 L468.21,208.67 L470.20,208.03 L472.20,207.40 L474.19,206.75 L476.18,206.09 L478.18,205.43 L480.17,204.76 L482.16,204.08 L484.16,203.39 L486.15,202.69 L488.14,201.98 L490.14,201.26 L492.13,200.54 L494.12,199.80 L496.12,199.05 L498.11,198.30 L500.10,197.53 L502.10,196.76 L504.09,195.97 L506.08,195.18 L508.08,194.37 L510.07,193.55 L512.06,192.72 L514.06,191.88 L516.05,191.03 L518.04,190.16 L520.04,189.28 L522.03,188.40 L524.02,187.49 L526.02,186.58 L528.01,185.66 L530.00,184.72 L532.00,183.76 L533.99,182.80 L535.98,181.82 L537.98,180.82 L539.97,179.82 L541.96,178.79 L543.96,177.76 L545.95,176.70 L547.94,175.64 L549.94,174.56 L551.93,173.46 L553.92,172.34 L555.92,171.21 L557.91,170.07 L559.90,168.90 L561.90,167.72 L563.89,166.53 L565.88,165.31 L567.88,164.08 L569.87,162.83 L571.86,161.56 L573.86,160.27 L575.85,158.96 L577.84,157.64 L579.84,156.29 L581.83,154.93 L583.82,153.54 L585.82,152.13 L587.81,150.71 L589.80,149.26 L591.80,147.79 L593.79,146.30 L595.78,144.78 L597.78,143.24 L599.77,141.68 L601.76,140.10 L603.76,138.49 L605.75,136.86 L607.74,135.20 L609.73,133.52 L611.73,131.82 L613.72,130.08 L615.71,128.33 L617.71,126.54 L619.70,124.73 L621.69,122.89 L623.69,121.02 L625.68,119.13 L627.67,117.20 L629.67,115.25 L631.66,113.27 L633.65,111.26 L635.65,109.21 L637.64,107.14 L639.63,105.03 L641.63,102.89 L643.62,100.72 L645.61,98.52 L647.61,96.28 L649.60,94.01 L651.59,91.70 L653.59,89.36 L655.58,86.98 L657.57,84.57 L659.57,82.12 L661.56,79.63 L663.55,77.11 L665.55,74.54 L667.54,71.94 L669.53,69.29 L671.53,66.61 L673.52,63.89 L675.51,61.12 L677.51,58.31 L679.50,55.46" fill="none" stroke="#0000ff" stroke-width="2.3" stroke-linejoin="round" clip-path="url(#clipb)"/>
<line x1="427.20" y1="240.3" x2="427.20" y2="238.3" stroke="#333" stroke-width="0.8"/>
<line x1="427.20" y1="15.0" x2="427.20" y2="17.0" stroke="#333" stroke-width="0.8"/>
<line x1="453.35" y1="240.3" x2="453.35" y2="237.3" stroke="#333" stroke-width="0.8"/>
<line x1="453.35" y1="15.0" x2="453.35" y2="18.0" stroke="#333" stroke-width="0.8"/>
<line x1="471.91" y1="240.3" x2="471.91" y2="238.3" stroke="#333" stroke-width="0.8"/>
<line x1="471.91" y1="15.0" x2="471.91" y2="17.0" stroke="#333" stroke-width="0.8"/>
<line x1="486.30" y1="240.3" x2="486.30" y2="238.3" stroke="#333" stroke-width="0.8"/>
<line x1="486.30" y1="15.0" x2="486.30" y2="17.0" stroke="#333" stroke-width="0.8"/>
<line x1="498.06" y1="240.3" x2="498.06" y2="238.3" stroke="#333" stroke-width="0.8"/>
<line x1="498.06" y1="15.0" x2="498.06" y2="17.0" stroke="#333" stroke-width="0.8"/>
<line x1="508.00" y1="240.3" x2="508.00" y2="238.3" stroke="#333" stroke-width="0.8"/>
<line x1="508.00" y1="15.0" x2="508.00" y2="17.0" stroke="#333" stroke-width="0.8"/>
<line x1="516.61" y1="240.3" x2="516.61" y2="238.3" stroke="#333" stroke-width="0.8"/>
<line x1="516.61" y1="15.0" x2="516.61" y2="17.0" stroke="#333" stroke-width="0.8"/>
<line x1="524.21" y1="240.3" x2="524.21" y2="238.3" stroke="#333" stroke-width="0.8"/>
<line x1="524.21" y1="15.0" x2="524.21" y2="17.0" stroke="#333" stroke-width="0.8"/>
<line x1="575.70" y1="240.3" x2="575.70" y2="238.3" stroke="#333" stroke-width="0.8"/>
<line x1="575.70" y1="15.0" x2="575.70" y2="17.0" stroke="#333" stroke-width="0.8"/>
<line x1="601.85" y1="240.3" x2="601.85" y2="237.3" stroke="#333" stroke-width="0.8"/>
<line x1="601.85" y1="15.0" x2="601.85" y2="18.0" stroke="#333" stroke-width="0.8"/>
<line x1="620.41" y1="240.3" x2="620.41" y2="238.3" stroke="#333" stroke-width="0.8"/>
<line x1="620.41" y1="15.0" x2="620.41" y2="17.0" stroke="#333" stroke-width="0.8"/>
<line x1="634.80" y1="240.3" x2="634.80" y2="238.3" stroke="#333" stroke-width="0.8"/>
<line x1="634.80" y1="15.0" x2="634.80" y2="17.0" stroke="#333" stroke-width="0.8"/>
<line x1="646.56" y1="240.3" x2="646.56" y2="238.3" stroke="#333" stroke-width="0.8"/>
<line x1="646.56" y1="15.0" x2="646.56" y2="17.0" stroke="#333" stroke-width="0.8"/>
<line x1="656.50" y1="240.3" x2="656.50" y2="238.3" stroke="#333" stroke-width="0.8"/>
<line x1="656.50" y1="15.0" x2="656.50" y2="17.0" stroke="#333" stroke-width="0.8"/>
<line x1="665.11" y1="240.3" x2="665.11" y2="238.3" stroke="#333" stroke-width="0.8"/>
<line x1="665.11" y1="15.0" x2="665.11" y2="17.0" stroke="#333" stroke-width="0.8"/>
<line x1="672.71" y1="240.3" x2="672.71" y2="238.3" stroke="#333" stroke-width="0.8"/>
<line x1="672.71" y1="15.0" x2="672.71" y2="17.0" stroke="#333" stroke-width="0.8"/>
<line x1="531.00" y1="240.3" x2="531.00" y2="237.3" stroke="#333" stroke-width="0.8"/>
<line x1="531.00" y1="15.0" x2="531.00" y2="18.0" stroke="#333" stroke-width="0.8"/>
<line x1="382.5" y1="240.60" x2="385.5" y2="240.60" stroke="#333" stroke-width="0.8"/>
<line x1="679.5" y1="240.60" x2="676.5" y2="240.60" stroke="#333" stroke-width="0.8"/>
<line x1="382.5" y1="212.03" x2="385.5" y2="212.03" stroke="#333" stroke-width="0.8"/>
<line x1="679.5" y1="212.03" x2="676.5" y2="212.03" stroke="#333" stroke-width="0.8"/>
<line x1="382.5" y1="183.45" x2="385.5" y2="183.45" stroke="#333" stroke-width="0.8"/>
<line x1="679.5" y1="183.45" x2="676.5" y2="183.45" stroke="#333" stroke-width="0.8"/>
<line x1="382.5" y1="154.88" x2="385.5" y2="154.88" stroke="#333" stroke-width="0.8"/>
<line x1="679.5" y1="154.88" x2="676.5" y2="154.88" stroke="#333" stroke-width="0.8"/>
<line x1="382.5" y1="126.30" x2="385.5" y2="126.30" stroke="#333" stroke-width="0.8"/>
<line x1="679.5" y1="126.30" x2="676.5" y2="126.30" stroke="#333" stroke-width="0.8"/>
<line x1="382.5" y1="97.72" x2="385.5" y2="97.72" stroke="#333" stroke-width="0.8"/>
<line x1="679.5" y1="97.72" x2="676.5" y2="97.72" stroke="#333" stroke-width="0.8"/>
<line x1="382.5" y1="69.15" x2="385.5" y2="69.15" stroke="#333" stroke-width="0.8"/>
<line x1="679.5" y1="69.15" x2="676.5" y2="69.15" stroke="#333" stroke-width="0.8"/>
<line x1="382.5" y1="40.57" x2="385.5" y2="40.57" stroke="#333" stroke-width="0.8"/>
<line x1="679.5" y1="40.57" x2="676.5" y2="40.57" stroke="#333" stroke-width="0.8"/>
<rect x="382.5" y="15.0" width="297.0" height="225.3" fill="none" stroke="#777" stroke-width="1.05"/>
<text x="378.50" y="244.45" font-size="11.328" text-anchor="end" >0</text>
<text x="378.50" y="215.88" font-size="11.328" text-anchor="end" >0.5</text>
<text x="378.50" y="187.30" font-size="11.328" text-anchor="end" >1</text>
<text x="378.50" y="158.73" font-size="11.328" text-anchor="end" >1.5</text>
<text x="378.50" y="130.15" font-size="11.328" text-anchor="end" >2</text>
<text x="378.50" y="101.58" font-size="11.328" text-anchor="end" >2.5</text>
<text x="378.50" y="73.00" font-size="11.328" text-anchor="end" >3</text>
<text x="378.50" y="44.43" font-size="11.328" text-anchor="end" >3.5</text>
<text x="382.50" y="254.80" font-size="11.328" text-anchor="middle" >0.1</text>
<text x="453.35" y="254.80" font-size="11.328" text-anchor="middle" >0.3</text>
<text x="531.00" y="254.80" font-size="11.328" text-anchor="middle" >1</text>
<text x="601.85" y="254.80" font-size="11.328" text-anchor="middle" >3</text>
<text x="679.50" y="254.80" font-size="11.328" text-anchor="middle" >10</text>
<text x="383.5" y="12.8" font-size="10.94"><tspan font-size="12.48" dy="0.9" fill="#555">×</tspan><tspan dy="-0.9" dx="0.86" font-size="10.3">10</tspan><tspan font-size="8.64" dy="-5.66" dx="0.38">7</tspan></text>
<text x="531.00" y="268.7" font-size="11.808" text-anchor="middle">Eccentricity ratio e<tspan font-size="8.74" dy="5.57">1</tspan><tspan dy="-5.57">/e</tspan><tspan font-size="8.74" dy="5.57">2</tspan></text>
<text transform="translate(358.3,118.50) rotate(-90)" x="0" y="0" font-size="12.00" text-anchor="middle">Peak-to-peak value :<tspan dx="-1.44"> Δ </tspan><tspan font-style="italic" dx="0.96">k</tspan><tspan font-size="8.88" dy="5.57" dx="0.58">e</tspan><tspan dy="-5.57" dx="0.77"> (N/m)</tspan></text>
<rect x="505.5" y="18.5" width="80.29999999999995" height="63.7" fill="#fff" stroke="#8a8a8a" stroke-width="1"/>
<line x1="508" y1="25.80" x2="534.6" y2="25.80" stroke="#ff0000" stroke-width="2.2"/>
<text y="29.70" font-size="10.0"><tspan x="537.00">Δ</tspan><tspan x="544.31" font-style="italic">ϕ</tspan><tspan x="552.58" font-size="10.50">=</tspan><tspan x="560.27">1.10</tspan><tspan x="577.29" font-weight="bold" font-size="9.50">π</tspan></text>
<line x1="508" y1="38.10" x2="534.6" y2="38.10" stroke="#ffff00" stroke-width="2.2"/>
<text y="42.00" font-size="10.0"><tspan x="537.00">Δ</tspan><tspan x="544.31" font-style="italic">ϕ</tspan><tspan x="552.58" font-size="10.50">=</tspan><tspan x="560.27">1.20</tspan><tspan x="577.29" font-weight="bold" font-size="9.50">π</tspan></text>
<line x1="508" y1="50.40" x2="534.6" y2="50.40" stroke="#00ff00" stroke-width="2.2"/>
<text y="54.30" font-size="10.0"><tspan x="537.00">Δ</tspan><tspan x="544.31" font-style="italic">ϕ</tspan><tspan x="552.58" font-size="10.50">=</tspan><tspan x="560.27">1.30</tspan><tspan x="577.29" font-weight="bold" font-size="9.50">π</tspan></text>
<line x1="508" y1="62.70" x2="534.6" y2="62.70" stroke="#00ffff" stroke-width="2.2"/>
<text y="66.60" font-size="10.0"><tspan x="537.00">Δ</tspan><tspan x="544.31" font-style="italic">ϕ</tspan><tspan x="552.58" font-size="10.50">=</tspan><tspan x="560.27">1.40</tspan><tspan x="577.29" font-weight="bold" font-size="9.50">π</tspan></text>
<line x1="508" y1="75.00" x2="534.6" y2="75.00" stroke="#0000ff" stroke-width="2.2"/>
<text y="78.90" font-size="10.0"><tspan x="537.00">Δ</tspan><tspan x="544.31" font-style="italic">ϕ</tspan><tspan x="552.58" font-size="10.50">=</tspan><tspan x="560.27">1.50</tspan><tspan x="577.29" font-weight="bold" font-size="9.50">π</tspan></text><text x="261.60" y="294.30" font-size="16.8" text-anchor="middle" >(a)</text><text x="424.20" y="294.30" font-size="16.8" text-anchor="middle" >(b)</text></svg>
</body></html>
